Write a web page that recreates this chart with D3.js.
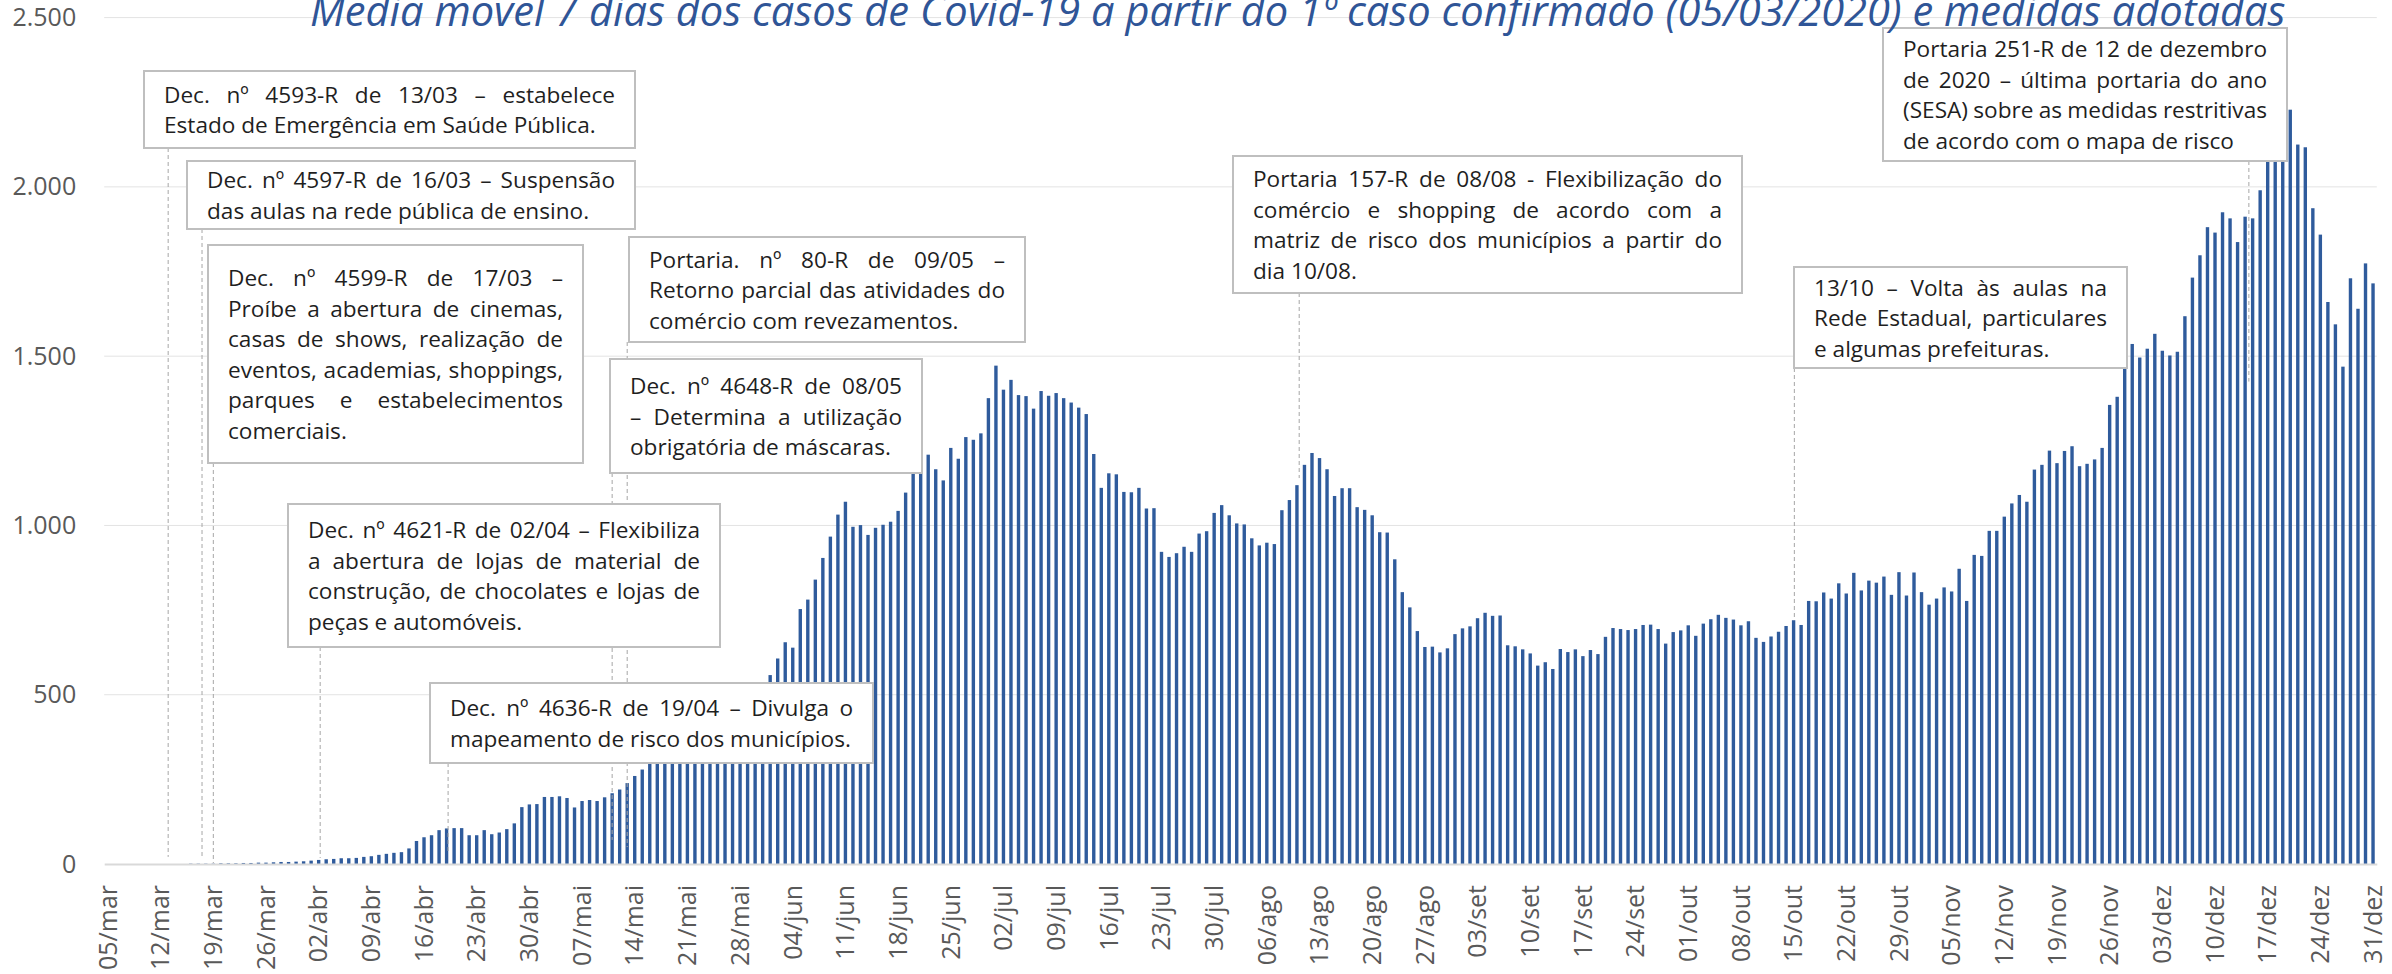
<!DOCTYPE html>
<html>
<head>
<meta charset="utf-8">
<script src="https://cdn.jsdelivr.net/npm/d3@7"></script>
<style>
  body { margin: 0; background: #fff; }
  svg { display: block; font-family: "Open Sans", sans-serif; }
</style>
</head>
<body>
<svg id="chart"></svg>
<script>
var width = 2392;
var height = 974;

var title = "Média móvel 7 dias dos casos de Covid-19 a partir do 1º caso confirmado (05/03/2020) e medidas adotadas";
var firstDay = "2020-03-05";
var monthNames = ["jan", "fev", "mar", "abr", "mai", "jun", "jul", "ago", "set", "out", "nov", "dez"];
var yTicks = [0, 500, 1000, 1500, 2000, 2500];

// média móvel de 7 dias, um valor por dia, separado por mês
var casosMar = [0, 0, 0, 0, 0, 0, 0, 0, 0, 0, 0, 1, 1, 1, 1, 2, 2, 2, 3, 3, 4, 4, 5, 6, 6, 7, 8];
var casosAbr = [10, 12, 14, 15, 17, 17, 18, 21, 23, 27, 30, 33, 35, 46, 68, 79, 85, 100, 105, 106,
                106, 85, 85, 100, 88, 93, 103, 120, 168, 176];
var casosMai = [177, 198, 198, 200, 195, 167, 186, 189, 186, 197, 209, 220, 239, 260, 279, 298,
                312, 327, 339, 352, 368, 380, 391, 405, 420, 434, 447, 463, 480, 498, 517];
var casosJun = [558, 607, 655, 639, 753, 781, 840, 904, 967, 1032, 1070, 996, 1001, 972, 993,
                1002, 1011, 1043, 1097, 1165, 1185, 1209, 1166, 1133, 1229, 1197, 1261, 1253, 1272, 1376];
var casosJul = [1472, 1401, 1430, 1385, 1382, 1345, 1397, 1383, 1391, 1376, 1363, 1348, 1329, 1211,
                1111, 1154, 1151, 1099, 1098, 1111, 1050, 1051, 922, 907, 918, 937, 922, 976, 983, 1037, 1060];
var casosAgo = [1030, 1006, 1003, 962, 941, 949, 945, 1045, 1075, 1119, 1179, 1214, 1199, 1166,
                1087, 1110, 1110, 1054, 1046, 1030, 980, 979, 900, 803, 758, 688, 641, 642, 625, 637, 679];
var casosSet = [696, 702, 726, 742, 733, 734, 646, 643, 634, 622, 586, 596, 576, 635, 626, 634,
                614, 632, 620, 671, 697, 694, 691, 694, 706, 707, 694, 651, 685, 690];
var casosOut = [705, 674, 710, 723, 736, 727, 722, 705, 717, 668, 656, 672, 686, 703, 720, 706,
                777, 776, 802, 784, 829, 799, 860, 808, 837, 831, 849, 795, 862, 793, 861];
var casosNov = [803, 766, 784, 817, 805, 872, 777, 913, 910, 984, 984, 1026, 1065, 1090, 1070,
                1165, 1179, 1221, 1184, 1220, 1234, 1175, 1182, 1195, 1229, 1356, 1380, 1547, 1536, 1496];
var casosDez = [1522, 1566, 1516, 1502, 1513, 1618, 1732, 1798, 1881, 1865, 1925, 1907, 1837, 1912,
                1907, 1990, 2100, 2180, 2170, 2228, 2125, 2117, 1937, 1859, 1660, 1594, 1469, 1730, 1640, 1774, 1715];

// medidas adotadas: texto, dia (a partir de 05/03) e valor onde termina a linha
var medidas = [
  {lines: ["Dec. nº 4593-R de 13/03 – estabelece", "Estado de Emergência em Saúde Pública."], day: 8.0, end: 21},
  {lines: ["Dec. nº 4597-R de 16/03 – Suspensão", "das aulas na rede pública de ensino."], day: 12.5, end: 15},
  {lines: ["Dec. nº 4599-R de 17/03 –", "Proíbe a abertura de cinemas,", "casas de shows, realização de",
           "eventos, academias, shoppings,", "parques e estabelecimentos", "comerciais."], day: 14.0, end: 3},
  {lines: ["Dec. nº 4621-R de 02/04 – Flexibiliza", "a abertura de lojas de material de",
           "construção, de chocolates e lojas de", "peças e automóveis."], day: 28.2, end: 18},
  {lines: ["Dec. nº 4636-R de 19/04 – Divulga o", "mapeamento de risco dos municípios."], day: 45.2, end: 38},
  {lines: ["Portaria. nº 80-R de 09/05 –", "Retorno parcial das atividades do", "comércio com revezamentos."], day: 69.0, end: 50},
  {lines: ["Dec. nº 4648-R de 08/05", "– Determina a utilização", "obrigatória de máscaras."], day: 67.0, end: 71},
  {lines: ["Portaria 157-R de 08/08 - Flexibilização do", "comércio e shopping de acordo com a",
           "matriz de risco dos municípios a partir do", "dia 10/08."], day: 158.3, end: 1140},
  {lines: ["13/10 – Volta às aulas na", "Rede Estadual, particulares", "e algumas prefeituras."], day: 224.1, end: 727},
  {lines: ["Portaria 251-R de 12 de dezembro", "de 2020 – última portaria do ano",
           "(SESA) sobre as medidas restritivas", "de acordo com o mapa de risco"], day: 284.5, end: 1425}
];

// caixas de texto [x, y, largura, altura]
var boxes = [
  [144, 71, 491, 77], [187, 161, 448, 68], [208, 245, 375, 218], [288, 504, 432, 143],
  [430, 683, 443, 80], [629, 237, 396, 105], [610, 359, 312, 114], [1233, 156, 509, 137],
  [1794, 267, 333, 101], [1883, 28, 404, 133]
];

var values = [].concat(casosMar, casosAbr, casosMai, casosJun, casosJul, casosAgo,
                       casosSet, casosOut, casosNov, casosDez);
var start = d3.timeParse("%Y-%m-%d")(firstDay);
var dates = d3.timeDay.range(start, d3.timeDay.offset(start, values.length));
var data = dates.map(function (d, i) { return {i: i, date: d, value: values[i]}; });

var plotLeft = 104.2, plotRight = 2376.8, plotBottom = 864, plotTop = 17.6;

var svg = d3.select("#chart").attr("width", width).attr("height", height);

var x = d3.scaleBand()
    .domain(d3.range(values.length))
    .range([plotLeft, plotRight])
    .paddingInner(0.55)
    .paddingOuter(0.275);

var y = d3.scaleLinear()
    .domain([0, 2500])
    .range([plotBottom, plotTop]);

function dayX(d) {
  return x(0) + x.bandwidth() / 2 + d * x.step();
}

var pt = d3.formatLocale({decimal: ",", thousands: ".", grouping: [3], currency: ["R$", ""]});

// grade
svg.append("g")
  .selectAll("line")
  .data(yTicks.slice(1))
  .join("line")
    .attr("x1", plotLeft)
    .attr("x2", plotRight)
    .attr("y1", function (d) { return y(d); })
    .attr("y2", function (d) { return y(d); })
    .attr("stroke", "#e3e3e3")
    .attr("stroke-width", 1);

// barras
svg.append("g")
  .selectAll("rect")
  .data(data)
  .join("rect")
    .attr("x", function (d) { return x(d.i); })
    .attr("width", x.bandwidth())
    .attr("y", function (d) { return y(d.value); })
    .attr("height", function (d) { return y(0) - y(d.value); })
    .attr("fill", "#2f5b9c");

// eixo y
var yAxis = d3.axisLeft(y).tickValues(yTicks).tickSize(0).tickPadding(28).tickFormat(pt.format(","));
var gy = svg.append("g")
    .attr("transform", "translate(" + plotLeft + ",0)")
    .call(yAxis);
gy.select(".domain").remove();
gy.selectAll("text").attr("fill", "#595959").style("font-size", "25px").style("font-family", "Open Sans");

// eixo x
var tickIdx = d3.range(0, values.length, 7);
var xAxis = d3.axisBottom(x).tickValues(tickIdx).tickSize(0).tickFormat(function (i) {
  var d = dates[i];
  return d3.timeFormat("%d")(d) + "/" + monthNames[d.getMonth()];
});
var gx = svg.append("g")
    .attr("transform", "translate(0," + plotBottom + ")")
    .call(xAxis);
gx.select(".domain").attr("stroke", "#d9d9d9").attr("stroke-width", 2);
gx.selectAll("text")
    .attr("fill", "#595959")
    .style("font-size", "25px")
    .style("font-family", "Open Sans")
    .attr("x", -21)
    .attr("y", 0)
    .attr("dy", "0.35em")
    .attr("transform", "rotate(-90)")
    .style("text-anchor", "end");

// linhas das medidas
svg.append("g")
  .selectAll("line")
  .data(medidas)
  .join("line")
    .attr("x1", function (d) { return dayX(d.day); })
    .attr("x2", function (d) { return dayX(d.day); })
    .attr("y1", function (d, i) { return boxes[i][1] + boxes[i][3]; })
    .attr("y2", function (d) { return y(d.end); })
    .attr("stroke", "#a6a6a6")
    .attr("stroke-width", 1)
    .attr("stroke-dasharray", "4,3");

// tamanho da fonte das caixas ajustado pela largura de uma linha de referência
var probe = svg.append("text").style("font-size", "22px").text(medidas[0].lines[1]);
var noteSize = 22 * 432 / probe.node().getComputedTextLength();
probe.remove();

var padX = 20, lineH = 30.5;
var notes = svg.append("g");
medidas.forEach(function (m, k) {
  var b = boxes[k];
  var g = notes.append("g");
  g.append("rect")
    .attr("x", b[0]).attr("y", b[1])
    .attr("width", b[2]).attr("height", b[3])
    .attr("fill", "#fff")
    .attr("stroke", "#bfbfbf")
    .attr("stroke-width", 2);
  var inner = b[2] - 2 * padX;
  var cy = b[1] + b[3] / 2 - (m.lines.length - 1) * lineH / 2;
  m.lines.forEach(function (s, j) {
    var t = g.append("text")
      .attr("x", b[0] + padX)
      .attr("y", cy + j * lineH)
      .attr("dominant-baseline", "central")
      .attr("fill", "#1f1f1f")
      .style("font-size", noteSize + "px")
      .text(s);
    // justificado, menos a última linha
    if (j < m.lines.length - 1) {
      var spaces = s.split(" ").length - 1;
      var w = t.node().getComputedTextLength();
      if (spaces > 0) t.attr("word-spacing", (inner - w) / spaces);
    }
  });
});

// título
var tt = svg.append("text")
    .attr("x", 310)
    .attr("y", 26)
    .attr("fill", "#2f5597")
    .style("font-style", "italic")
    .style("font-size", "40px")
    .text(title);
var tw = tt.node().getComputedTextLength();
tt.style("font-size", (40 * 1976 / tw) + "px");
</script>
</body>
</html>
